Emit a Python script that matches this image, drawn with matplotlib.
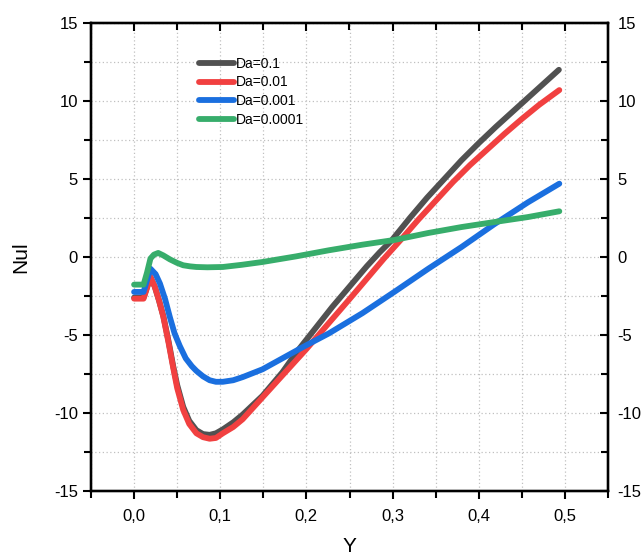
import matplotlib
matplotlib.use("Agg")
import matplotlib.pyplot as plt
from matplotlib.ticker import MultipleLocator, FuncFormatter

plt.rcParams['font.family'] = ['Liberation Sans', 'DejaVu Sans']
plt.rcParams['axes.unicode_minus'] = False

# Data
y_black = [0.0, 0.011, 0.019, 0.024, 0.029, 0.034, 0.040, 0.0454, 0.050, 0.057, 0.064, 0.0723, 0.080, 0.0877,
           0.095, 0.103, 0.115, 0.126, 0.149, 0.172, 0.190, 0.210, 0.230, 0.250, 0.270, 0.285, 0.299, 0.320,
           0.340, 0.360, 0.380, 0.400, 0.420, 0.440, 0.460, 0.480, 0.493]
nu_black = [-2.6, -2.6, -1.3, -1.9, -2.8, -3.8, -5.4, -7.0, -8.2, -9.6, -10.5, -11.1, -11.35, -11.4,
            -11.3, -11.05, -10.6, -10.1, -8.9, -7.4, -6.0, -4.6, -3.2, -1.9, -0.6, 0.3, 1.07, 2.5,
            3.8, 5.0, 6.2, 7.3, 8.35, 9.35, 10.35, 11.35, 12.0]

y_red = [0.0, 0.011, 0.019, 0.024, 0.029, 0.034, 0.040, 0.0454, 0.050, 0.057, 0.064, 0.0723, 0.080, 0.0877,
         0.095, 0.103, 0.115, 0.126, 0.149, 0.172, 0.200, 0.225, 0.250, 0.270, 0.290, 0.309, 0.330,
         0.350, 0.370, 0.390, 0.410, 0.430, 0.450, 0.470, 0.4935]
nu_red = [-2.67, -2.67, -1.28, -1.9, -2.8, -3.85, -5.5, -7.1, -8.4, -9.8, -10.7, -11.3, -11.55, -11.65,
          -11.6, -11.3, -10.9, -10.4, -9.0, -7.6, -5.9, -4.3, -2.7, -1.4, -0.1, 1.07, 2.4,
          3.6, 4.8, 5.9, 6.9, 7.9, 8.85, 9.75, 10.7]

y_blue = [0.0, 0.011, 0.019, 0.025, 0.030, 0.036, 0.0415, 0.047, 0.053, 0.060, 0.067, 0.0723, 0.080, 0.0877,
          0.095, 0.103, 0.115, 0.126, 0.149, 0.172, 0.195, 0.226, 0.265, 0.303, 0.3415, 0.38, 0.418,
          0.457, 0.4935]
nu_blue = [-2.24, -2.24, -0.75, -1.1, -1.7, -2.7, -3.85, -4.9, -5.7, -6.5, -7.0, -7.3, -7.65, -7.9,
           -8.0, -8.0, -7.9, -7.7, -7.2, -6.5, -5.8, -4.9, -3.6, -2.2, -0.75, 0.64, 2.1,
           3.5, 4.7]

y_green = [0.0, 0.011, 0.015, 0.019, 0.023, 0.028, 0.034, 0.0415, 0.050, 0.057, 0.065, 0.0723, 0.085, 0.103,
           0.125, 0.149, 0.188, 0.226, 0.265, 0.303, 0.3415, 0.38, 0.418, 0.457, 0.4935]
nu_green = [-1.77, -1.77, -1.0, -0.1, 0.15, 0.26, 0.1, -0.15, -0.38, -0.53, -0.6, -0.64, -0.66, -0.64,
            -0.5, -0.32, 0.04, 0.43, 0.79, 1.1, 1.54, 1.92, 2.24, 2.56, 2.93]

series = [
    ("Da=0.1", y_black, nu_black, "#515151"),
    ("Da=0.01", y_red, nu_red, "#F14040"),
    ("Da=0.001", y_blue, nu_blue, "#1A6FDF"),
    ("Da=0.0001", y_green, nu_green, "#37AD6B"),
]

fig = plt.figure(figsize=(6.44, 5.58), dpi=100)
ax = fig.add_axes([91/644, 1-491/558, (608-91)/644, (491-23)/558])

for label, xs, ys, c in series:
    ax.plot(xs, ys, color=c, lw=4.2, label=label, solid_capstyle='round', solid_joinstyle='round')

ax.set_xlim(-0.05, 0.55)
ax.set_ylim(-15, 15)
ax.xaxis.set_major_locator(MultipleLocator(0.1))
ax.xaxis.set_minor_locator(MultipleLocator(0.05))
ax.yaxis.set_major_locator(MultipleLocator(5))
ax.yaxis.set_minor_locator(MultipleLocator(2.5))
ax.xaxis.set_major_formatter(FuncFormatter(lambda v, p: f"{v:.1f}".replace('.', ',')))
ax.yaxis.set_major_formatter(FuncFormatter(lambda v, p: f"{v:.0f}"))

ax.grid(True, which='both', color='#c0c0c0', linestyle=(0, (1, 2)), linewidth=0.9)
ax.set_axisbelow(True)

for s in ax.spines.values():
    s.set_linewidth(1.6)

ax.tick_params(which='both', direction='out', width=1.5, labelsize=12)
ax.tick_params(which='major', length=6)
ax.tick_params(which='minor', length=5)
ax.tick_params(axis='y', pad=3.5)
ax.tick_params(axis='x', pad=7)

axr = ax.twinx()
axr.set_ylim(ax.get_ylim())
axr.yaxis.set_major_locator(MultipleLocator(5))
axr.yaxis.set_minor_locator(MultipleLocator(2.5))
axr.yaxis.set_major_formatter(FuncFormatter(lambda v, p: f"{v:.0f}"))
axr.tick_params(which='both', direction='in', width=1.5, labelsize=12, pad=7)
axr.tick_params(which='major', length=6)
axr.tick_params(which='minor', length=5)

axt = ax.twiny()
axt.set_xlim(ax.get_xlim())
axt.xaxis.set_major_locator(MultipleLocator(0.1))
axt.xaxis.set_minor_locator(MultipleLocator(0.05))
axt.tick_params(which='both', direction='in', width=1.5, labeltop=False)
axt.tick_params(which='major', length=6)
axt.tick_params(which='minor', length=5)
for a in (axr, axt):
    for s in a.spines.values():
        s.set_linewidth(1.6)

ax.set_xlabel("Y", fontsize=15, labelpad=9)
ax.set_ylabel("Nul", fontsize=15, labelpad=17)

leg = ax.legend(loc='upper left', bbox_to_anchor=(0.199, 0.94), frameon=False,
                fontsize=10, handlelength=2.5, handletextpad=0.15, labelspacing=0.35,
                borderaxespad=0)

fig.savefig("out.png", dpi=100)
